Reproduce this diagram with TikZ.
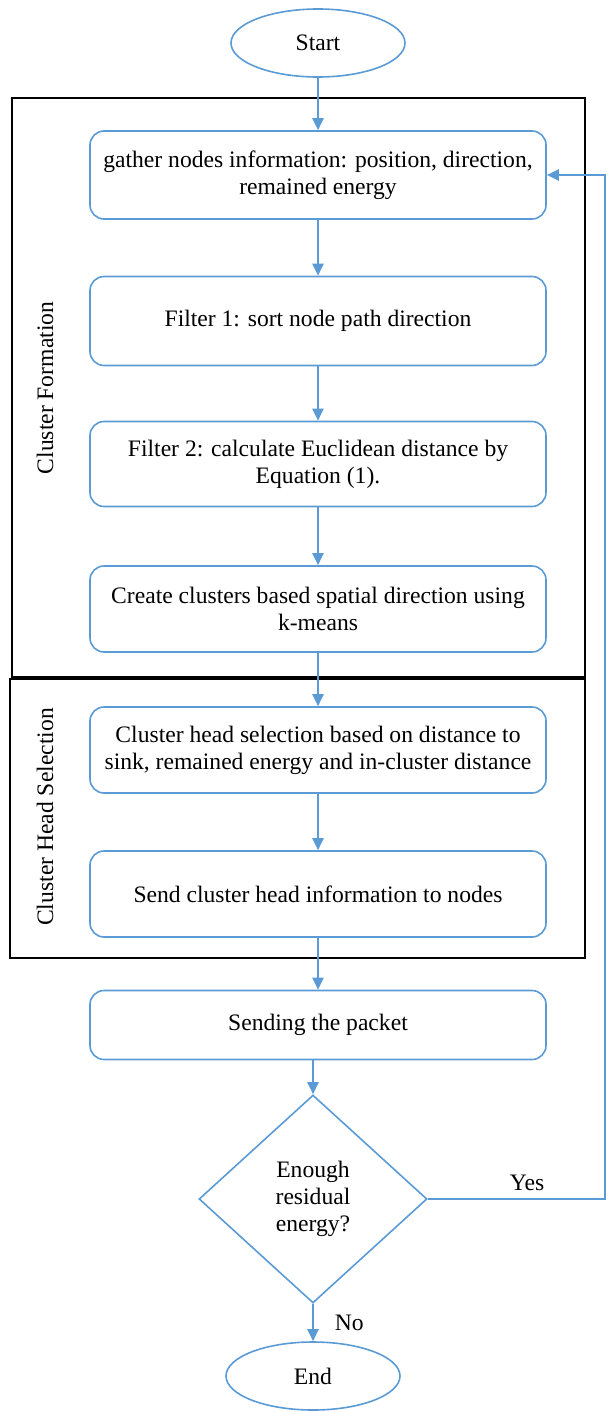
\documentclass[tikz,border=0pt]{standalone}
\usepackage{fontspec}
\setmainfont{Liberation Serif}
\usetikzlibrary{shapes.geometric,arrows.meta,positioning}
\definecolor{flowblue}{RGB}{91,155,213}

\begin{document}
\begin{tikzpicture}[x=0.5pt,y=-0.5pt,
		font=\fontsize{11.8}{13.6}\selectfont,
		box/.style={draw=flowblue,line width=0.8pt,rounded corners=7pt,minimum width=228pt,align=center},
		term/.style={draw=flowblue,line width=0.8pt,ellipse,minimum width=87pt,minimum height=34pt},
		decision/.style={draw=flowblue,line width=0.8pt,diamond,minimum width=114pt,minimum height=104pt,align=center,inner sep=0pt},
		flow/.style={draw=flowblue,line width=1.2pt,-{Triangle[length=6pt,width=5.5pt]}},
		frame/.style={draw=black,line width=0.6pt}]
			\useasboundingbox (0,0) rectangle (608,1412);
			% frames of the two phases
			\draw[frame] (12,98) rectangle (585,677);
			\draw[frame] (10,679) rectangle (585,958);
			\node[rotate=90] (cform) at (45,388) {Cluster Formation};
			\node[rotate=90] (chead) at (45,817) {Cluster Head Selection};
			% steps
			\node[term] (start) at (318,43) {Start};
			\node[box,minimum height=44pt] (gather) at (318,175) {gather nodes information: position, direction,\\remained energy};
			\node[box,minimum height=44.5pt] (filta) at (318,321) {Filter 1: sort node path direction};
			\node[box,minimum height=42.5pt] (filtb) at (318,464) {Filter 2: calculate Euclidean distance by\\Equation (1).};
			\node[box,minimum height=43pt] (create) at (318,609) {Create clusters based spatial direction using\\k-means};
			\node[box,minimum height=43pt] (select) at (318,750) {Cluster head selection based on distance to\\sink, remained energy and in-cluster distance};
			\node[box,minimum height=43pt] (inform) at (318,894) {Send cluster head information to nodes};
			\node[box,minimum height=34.5pt] (send) at (318,1025) {Sending the packet};
			\node[decision] (dec) at (313,1199) {Enough\\residual\\energy?};
			\node[term] (end) at (313,1376) {End};
			\coordinate (back) at (605,1199);
			% connectors
			\draw[flow] (start) -- (gather);
			\draw[flow] (gather) -- (filta);
			\draw[flow] (filta) -- (filtb);
			\draw[flow] (filtb) -- (create);
			\draw[flow] (create) -- (select);
			\draw[flow] (select) -- (inform);
			\draw[flow] (inform) -- (send);
			\draw[flow] (send.south -| dec.north) -- (dec.north);
			\draw[flow] (dec) -- node[right=7pt] {No} (end);
			\draw[flow] (dec.east) -- node[above,pos=0.56] {Yes} (dec.east -| back) |- (gather.east);
		\end{tikzpicture}
\end{document}
